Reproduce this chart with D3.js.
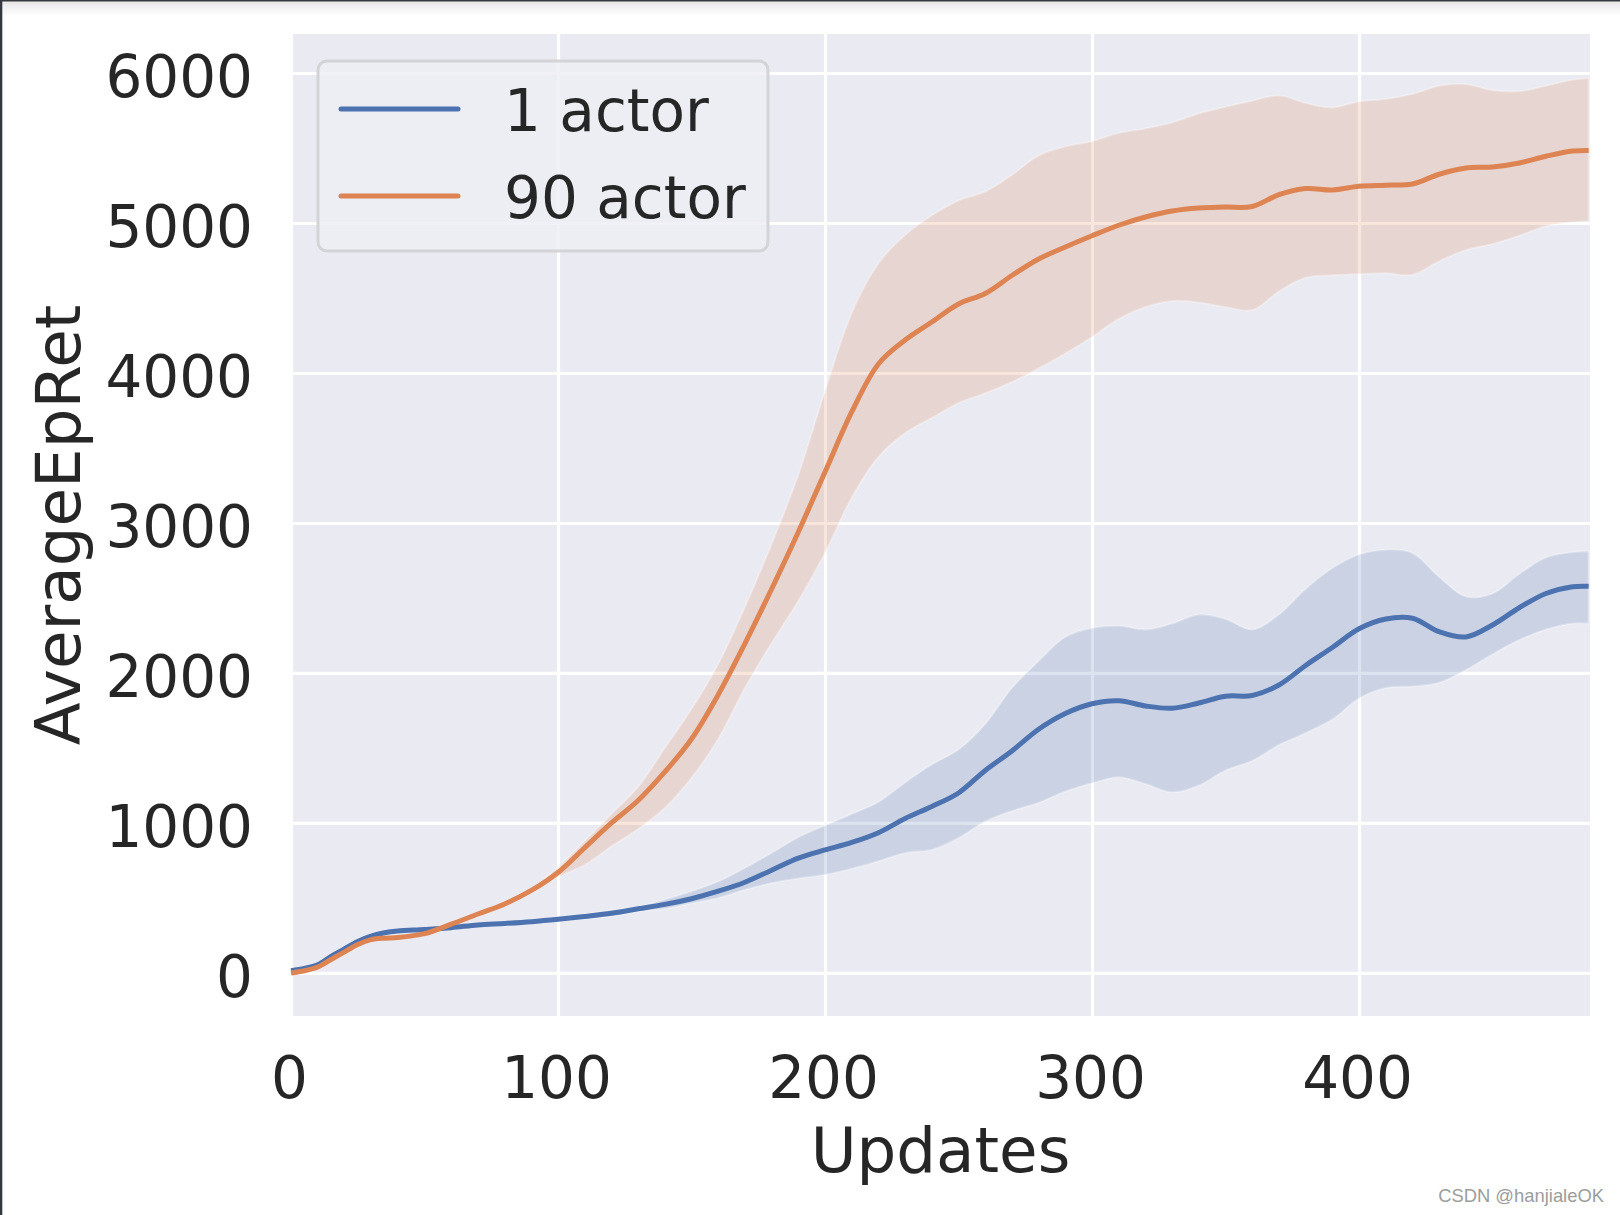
<!DOCTYPE html>
<html>
<head>
<meta charset="utf-8">
<script src="https://cdn.jsdelivr.net/npm/d3@7"></script>
<style>
  html, body { margin: 0; padding: 0; background: #ffffff; }
  svg { display: block; }
</style>
</head>
<body>
<svg id="chart" width="1620" height="1215"></svg>
<script>
// ---------------- data ----------------
const updates = [0,5,10,15,20,25,30,35,40,50,60,70,80,90,100,110,120,130,140,150,160,170,180,190,200,210,220,230,240,250,260,270,280,290,300,310,320,330,340,350,360,370,380,390,400,410,420,430,440,450,460,470,480,486];

const seriesNames = ["1 actor", "90 actor"];

const oneActorMean = [15,30,55,111,160,210,245,268,280,290,302,320,330,342,358,377,398,428,457,495,545,605,685,765,820,870,935,1030,1110,1200,1350,1480,1625,1730,1795,1815,1780,1765,1800,1845,1850,1920,2050,2170,2295,2360,2365,2275,2240,2320,2435,2530,2575,2578];
const oneActorUpper = [18,33,58,114,163,213,248,271,283,293,306,325,337,350,368,392,418,440,490,545,610,700,800,905,985,1060,1140,1270,1390,1490,1660,1900,2080,2240,2300,2315,2290,2330,2390,2360,2290,2390,2560,2700,2790,2822,2800,2640,2510,2530,2660,2770,2805,2811];
const oneActorLower = [12,27,52,108,157,207,242,265,277,287,298,315,323,334,348,362,378,411,428,465,500,555,600,630,655,695,745,800,822,900,1010,1080,1135,1210,1265,1305,1260,1205,1250,1350,1415,1520,1600,1690,1830,1900,1910,1935,2020,2125,2220,2290,2330,2329];

const ninetyActorMean = [0,15,40,90,140,190,222,232,236,262,325,393,460,550,670,835,1000,1150,1340,1560,1855,2196,2560,2940,3340,3740,4060,4220,4340,4460,4530,4650,4760,4840,4915,4985,5040,5080,5100,5106,5110,5189,5230,5220,5245,5252,5260,5325,5367,5373,5400,5445,5480,5484];
const ninetyActorUpper = [3,18,43,93,143,193,225,235,240,266,330,398,466,560,705,880,1060,1240,1500,1760,2060,2440,2860,3320,3880,4400,4730,4920,5050,5150,5210,5320,5450,5510,5545,5600,5630,5670,5730,5775,5815,5850,5800,5770,5810,5827,5860,5915,5925,5885,5878,5915,5955,5967];
const ninetyActorLower = [-3,12,37,87,137,187,219,229,232,258,320,388,454,535,640,720,845,960,1100,1300,1560,1900,2200,2480,2800,3170,3440,3600,3700,3800,3865,3940,4030,4130,4240,4360,4440,4480,4470,4440,4420,4544,4635,4652,4660,4665,4655,4745,4820,4860,4915,4980,5005,5011];

const xTickValues = [0,100,200,300,400];
const yTickValues = [0,1000,2000,3000,4000,5000,6000];

const colors = ["#4C72B0", "#DD8452"];

// ---------------- chart ----------------
const svg = d3.select("#chart");
const W = 1620, H = 1215;
const plot = { left: 291, right: 1590, top: 34, bottom: 1016 };

// screenshot frame (dark edge + soft shadow at top)
const defs = svg.append("defs");
const grad = defs.append("linearGradient").attr("id", "topShade").attr("x1", 0).attr("x2", 0).attr("y1", 0).attr("y2", 1);
grad.append("stop").attr("offset", "0%").attr("stop-color", "#e6e6e6");
grad.append("stop").attr("offset", "100%").attr("stop-color", "#ffffff");
svg.append("rect").attr("x", 0).attr("y", 1).attr("width", W).attr("height", 15).attr("fill", "url(#topShade)");
svg.append("rect").attr("x", 0).attr("y", 0).attr("width", W).attr("height", 1.5).attr("fill", "#35383c");
svg.append("rect").attr("x", 0).attr("y", 0).attr("width", 2.3).attr("height", H).attr("fill", "#35383c");

const x = d3.scaleLinear().domain([0, 486.5]).range([plot.left, plot.right]);
const y = d3.scaleLinear().domain([-287, 6260]).range([plot.bottom, plot.top]);

// axes background
svg.append("rect")
  .attr("x", plot.left).attr("y", plot.top)
  .attr("width", plot.right - plot.left).attr("height", plot.bottom - plot.top)
  .attr("fill", "#EAEAF2");

const font = "'DejaVu Sans', sans-serif";

// grid + tick labels via d3 axes
const gx = svg.append("g")
  .attr("transform", `translate(0,${plot.bottom})`)
  .call(d3.axisBottom(x).tickValues(xTickValues).tickFormat(d3.format("d"))
        .tickSize(-(plot.bottom - plot.top)).tickPadding(41));
const gy = svg.append("g")
  .attr("transform", `translate(${plot.left},0)`)
  .call(d3.axisLeft(y).tickValues(yTickValues).tickFormat(d3.format("d"))
        .tickSize(-(plot.right - plot.left)).tickPadding(38));

[gx, gy].forEach(g => {
  g.select(".domain").remove();
  g.selectAll(".tick line").attr("stroke", "#ffffff").attr("stroke-width", 3.2);
  g.selectAll(".tick text")
    .attr("fill", "#262626")
    .style("font-family", font)
    .style("font-size", "58px");
});
gx.selectAll(".tick text").attr("dy", "0.71em").attr("dx", "-2");
gy.selectAll(".tick text").attr("dy", "0.4em");

// bands and mean lines
const series = [
  { name: seriesNames[0], mean: oneActorMean, upper: oneActorUpper, lower: oneActorLower, color: colors[0] },
  { name: seriesNames[1], mean: ninetyActorMean, upper: ninetyActorUpper, lower: ninetyActorLower, color: colors[1] }
];

const curve = d3.curveCatmullRom.alpha(0.5);

const area = d3.area()
  .x((d, i) => x(updates[i]))
  .y0(d => y(d[0]))
  .y1(d => y(d[1]))
  .curve(curve);

const line = d3.line()
  .x((d, i) => x(updates[i]))
  .y(d => y(d))
  .curve(curve);

const dataLayer = svg.append("g");
series.forEach(s => {
  const bandData = s.lower.map((lo, i) => [lo, s.upper[i]]);
  dataLayer.append("path")
    .datum(bandData)
    .attr("d", area)
    .attr("fill", s.color)
    .attr("fill-opacity", 0.2)
    .attr("stroke", "#ffffff")
    .attr("stroke-opacity", 0.3)
    .attr("stroke-width", 2);
});
series.forEach(s => {
  dataLayer.append("path")
    .datum(s.mean)
    .attr("d", line)
    .attr("fill", "none")
    .attr("stroke", s.color)
    .attr("stroke-width", 5)
    .attr("stroke-linejoin", "round")
    .attr("stroke-linecap", "butt");
});

// legend
const lg = svg.append("g");
lg.append("rect")
  .attr("x", 318).attr("y", 61)
  .attr("width", 450).attr("height", 190)
  .attr("rx", 9).attr("ry", 9)
  .attr("fill", "#EDEDF4").attr("fill-opacity", 0.85)
  .attr("stroke", "#d4d4d6").attr("stroke-width", 3);
series.forEach((s, i) => {
  const ly = 109 + i * 87;
  lg.append("line")
    .attr("x1", 341).attr("x2", 458).attr("y1", ly).attr("y2", ly)
    .attr("stroke", s.color).attr("stroke-width", 5).attr("stroke-linecap", "round");
  lg.append("text")
    .attr("x", 504).attr("y", ly).attr("dy", "0.38em")
    .attr("fill", "#262626")
    .style("font-family", font).style("font-size", "58px")
    .text(s.name);
});

// axis labels
svg.append("text")
  .attr("x", (plot.left + plot.right) / 2).attr("y", 1172)
  .attr("text-anchor", "middle")
  .attr("fill", "#262626")
  .style("font-family", font).style("font-size", "62.7px")
  .text("Updates");
svg.append("text")
  .attr("transform", `translate(80,${(plot.top + plot.bottom) / 2}) rotate(-90)`)
  .attr("text-anchor", "middle")
  .attr("fill", "#262626")
  .style("font-family", font).style("font-size", "62.7px")
  .text("AverageEpRet");

// watermark
svg.append("text")
  .attr("x", 1604).attr("y", 1202)
  .attr("text-anchor", "end")
  .attr("fill", "#9c9c9c")
  .style("font-family", "'Liberation Sans', Arial, sans-serif").style("font-size", "18.4px")
  .text("CSDN @hanjialeOK");
</script>
</body>
</html>
